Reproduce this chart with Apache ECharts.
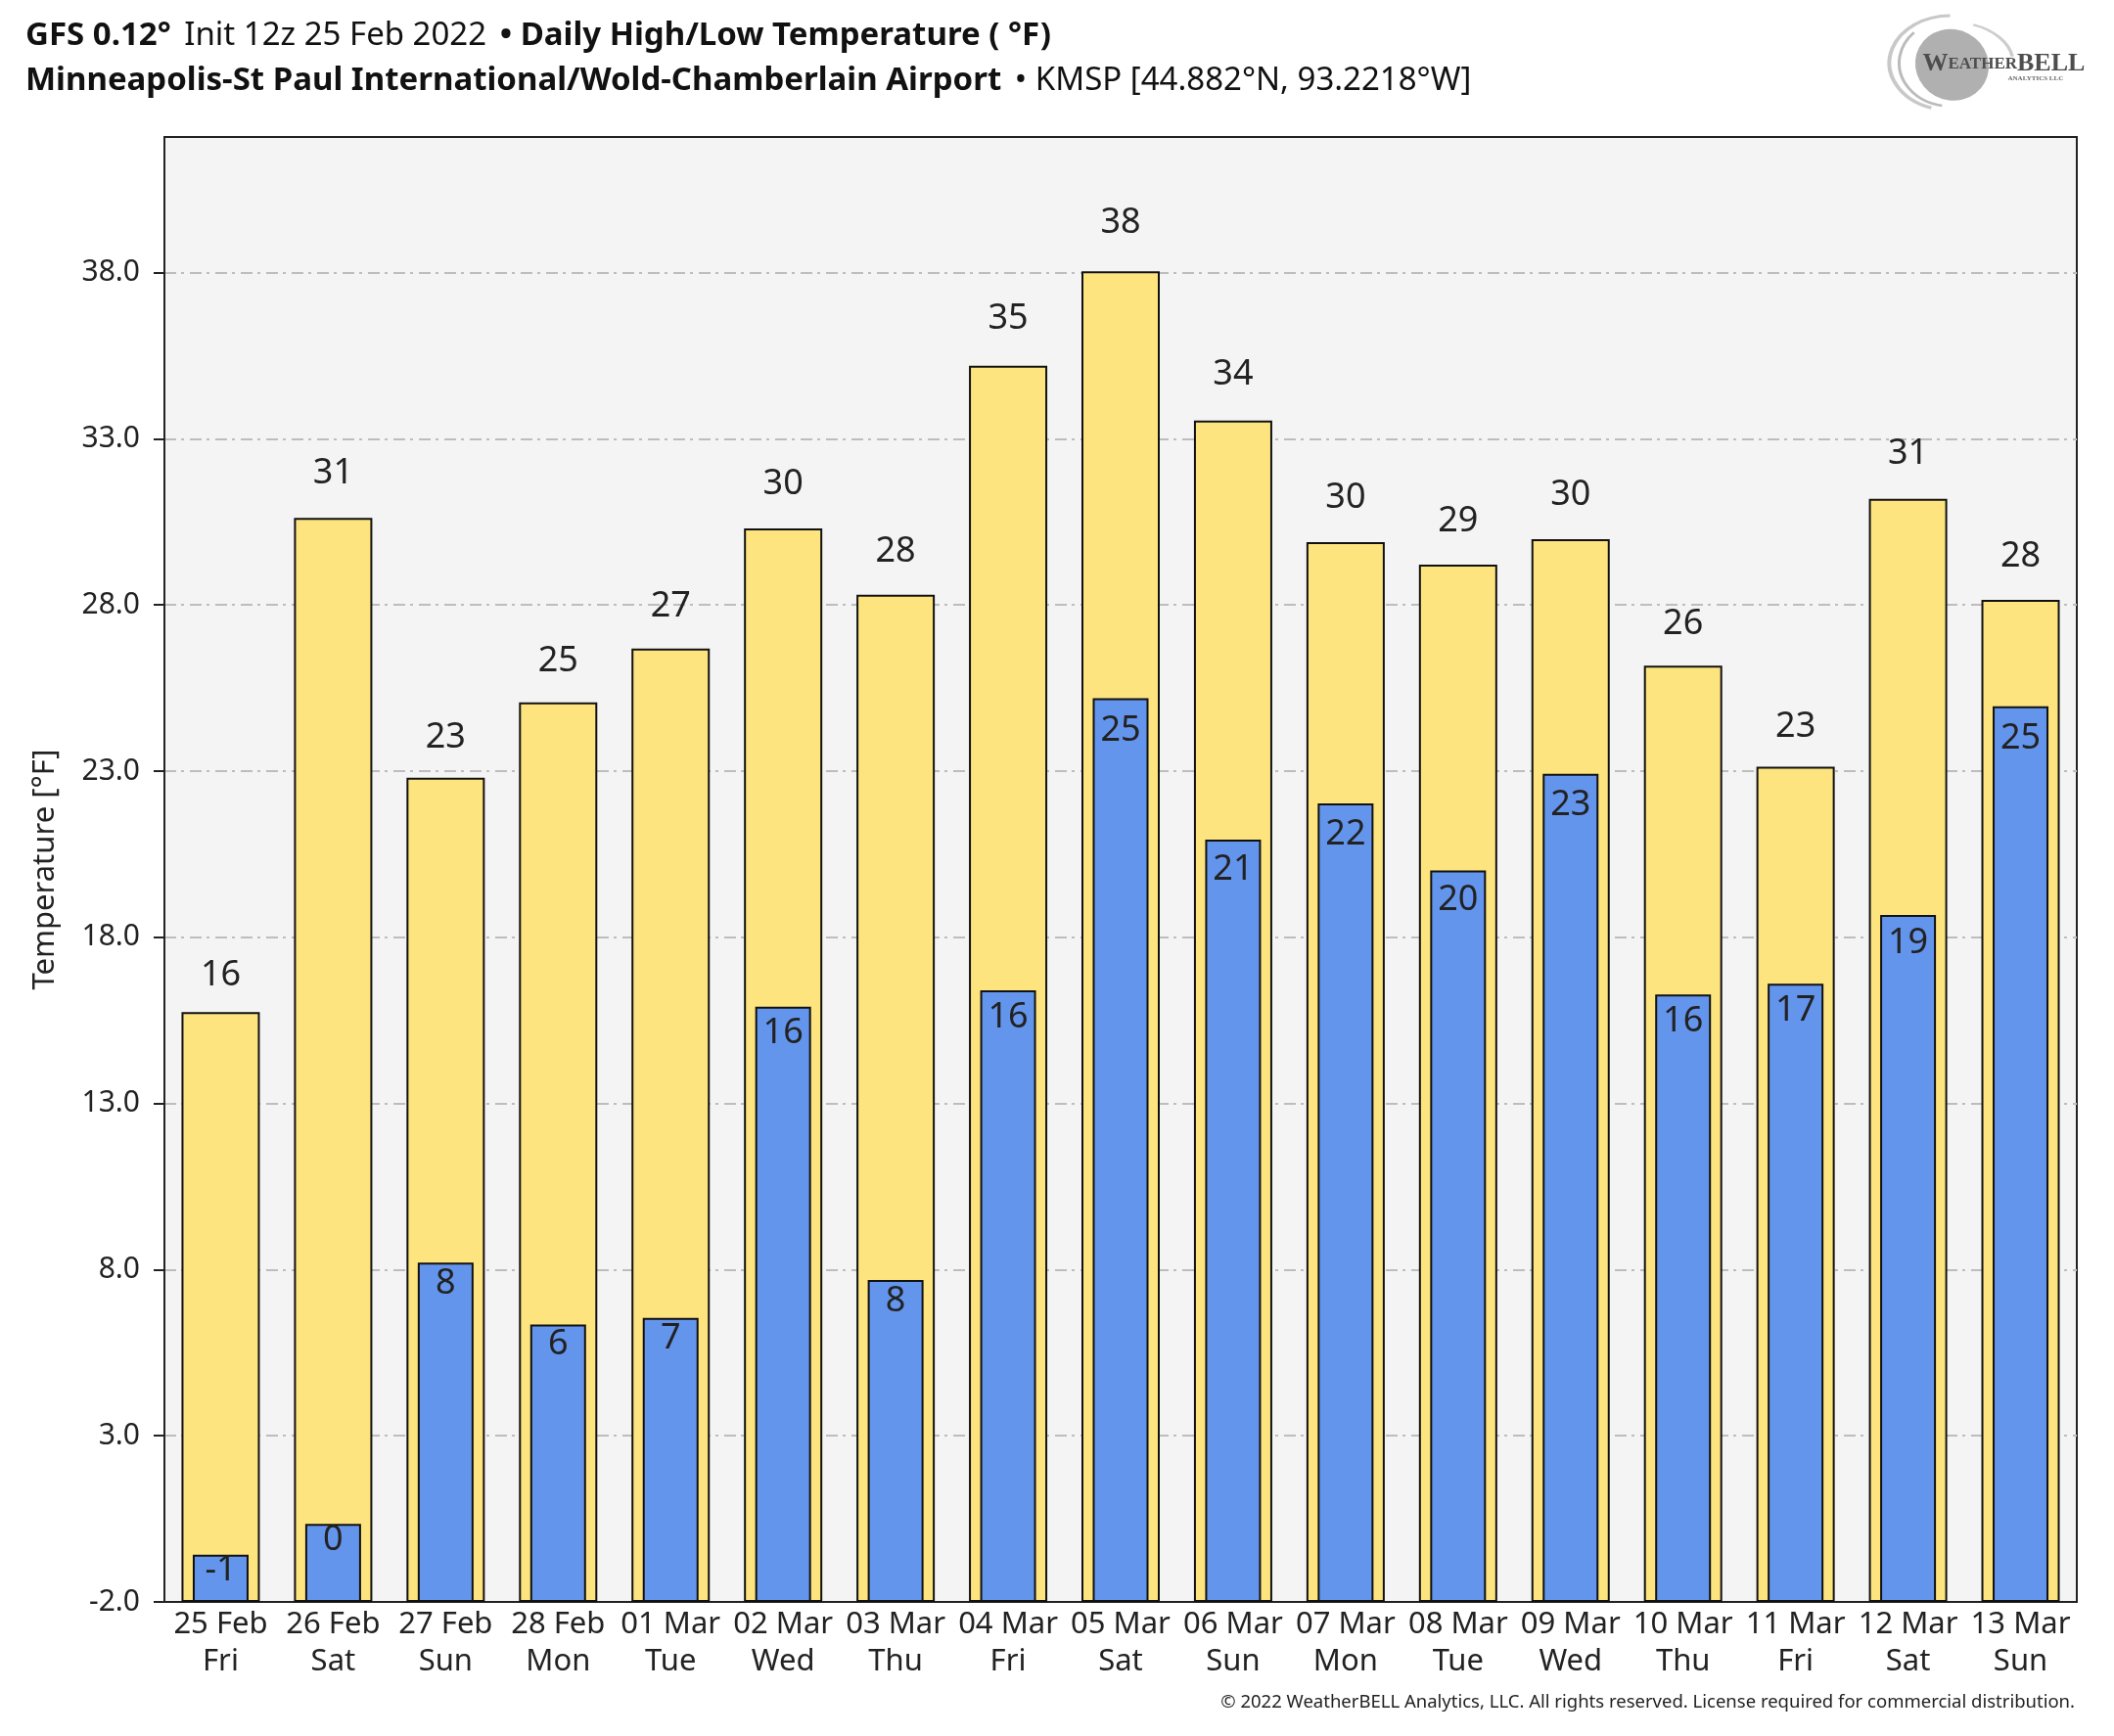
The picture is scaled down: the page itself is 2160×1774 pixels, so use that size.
<!DOCTYPE html>
<html>
<head>
<meta charset="utf-8">
<script src="https://cdn.jsdelivr.net/npm/echarts@6/dist/echarts.min.js"></script>
<style>
html,body{margin:0;padding:0;background:#fff;}
#c{width:2160px;height:1774px;}
</style>
</head>
<body>
<div id="c"></div>
<script>
// ---- data ----
const dates = ['25 Feb','26 Feb','27 Feb','28 Feb','01 Mar','02 Mar','03 Mar','04 Mar','05 Mar','06 Mar','07 Mar','08 Mar','09 Mar','10 Mar','11 Mar','12 Mar','13 Mar'];
const days = ['Fri','Sat','Sun','Mon','Tue','Wed','Thu','Fri','Sat','Sun','Mon','Tue','Wed','Thu','Fri','Sat','Sun'];
const highs = [15.75,30.62,22.80,25.07,26.69,30.30,28.31,35.20,38.04,33.55,29.89,29.21,29.98,26.17,23.13,31.19,28.15];
const lows = [-0.58,0.35,8.21,6.35,6.55,15.91,7.69,16.40,25.19,20.94,22.03,20.01,22.92,16.28,16.60,18.67,24.95];
const yMin = -2;     // bottom of the value axis
const yTop = 42.08;  // top of the plot area
const yStep = 5;

const FONT = 'Noto Sans';
const categories = dates.map((d, i) => d + '\n' + days[i]);

const highData = highs.map(v => ({
  value: v - yMin,
  label: { distance: 10.5 + 0.55 * v }
}));
const lowData = lows.map(v => ({
  value: v - yMin,
  label: { distance: -1.8 + 0.69 * v }
}));

const chart = echarts.init(document.getElementById('c'));
const option = {
  backgroundColor: '#ffffff',
  animation: false,
  title: {
    left: 21, top: 9,
    text: '{b|GFS 0.12°} {n| Init 12z 25 Feb 2022} {b| • Daily High/Low Temperature ( °F)}\n{b|Minneapolis-St Paul International/Wold-Chamberlain Airport} {n| • KMSP [44.882°N, 93.2218°W]}',
    textStyle: {
      rich: {
        b: { fontFamily: FONT, fontSize: 33, fontWeight: 'bold', color: '#111', lineHeight: 46 },
        n: { fontFamily: FONT, fontSize: 33, fontWeight: 'normal', color: '#111', lineHeight: 46 }
      }
    }
  },
  grid: {
    left: 168, right: 38, top: 140, bottom: 137,
    show: true, backgroundColor: '#f4f4f4', borderColor: '#222', borderWidth: 2
  },
  xAxis: [
    {
      type: 'category', data: categories,
      axisLine: { lineStyle: { color: '#222', width: 2 } },
      axisTick: { show: false },
      axisLabel: { interval: 0, fontFamily: FONT, fontSize: 31, lineHeight: 38, color: '#222', margin: 4 }
    },
    { type: 'category', data: categories, show: false }
  ],
  yAxis: {
    type: 'value', min: 0, max: yTop - yMin, interval: yStep,
    name: 'Temperature [°F]', nameLocation: 'middle', nameGap: 106,
    nameTextStyle: { fontFamily: FONT, fontSize: 31, color: '#222' },
    axisLine: { show: true, lineStyle: { color: '#222', width: 2 } },
    axisTick: { show: true, length: 11, lineStyle: { color: '#222', width: 2 } },
    axisLabel: {
      fontFamily: FONT, fontSize: 30, color: '#222', margin: 25, showMaxLabel: false,
      formatter: v => (Math.abs(v % yStep) < 1e-6 ? (v + yMin).toFixed(1) : '')
    },
    splitLine: { showMaxLine: false, showMinLine: false, lineStyle: { color: '#bdbdbd', width: 2, type: [12, 5, 3, 6] } }
  },
  series: [
    {
      name: 'High', type: 'bar', xAxisIndex: 0, barWidth: 80,
      data: highData,
      itemStyle: { color: '#FDE47F', borderColor: '#111', borderWidth: 2 },
      label: {
        show: true, position: 'top', fontFamily: FONT, fontSize: 36, lineHeight: 36, color: '#222',
        formatter: p => String(Math.round(p.value + yMin))
      }
    },
    {
      name: 'Low', type: 'bar', xAxisIndex: 1, barWidth: 57,
      data: lowData,
      itemStyle: { color: '#6495ED', borderColor: '#111', borderWidth: 2 },
      label: {
        show: true, position: 'insideTop', fontFamily: FONT, fontSize: 36, lineHeight: 36, color: '#222',
        formatter: p => String(Math.round(p.value + yMin))
      }
    }
  ],
  graphic: [
    {
      type: 'text', right: 40, top: 1730,
      style: { text: '© 2022 WeatherBELL Analytics, LLC. All rights reserved. License required for commercial distribution.', font: '18.5px "Noto Sans"', fill: '#222' }
    },
    {
      type: 'group', left: 1928, top: 14,
      children: [
        { type: 'arc', shape: { cx: 66, cy: 56, r: 62, startAngle: Math.PI * 0.6, endAngle: Math.PI * 1.5 }, style: { stroke: '#c8c8c8', lineWidth: 4, fill: null }, scaleX: 1, scaleY: 0.78, originX: 66, originY: 56 },
        { type: 'arc', shape: { cx: 66, cy: 56, r: 52, startAngle: Math.PI * 0.55, endAngle: Math.PI * 1.25 }, style: { stroke: '#bbbbbb', lineWidth: 3, fill: null }, scaleX: 1, scaleY: 0.85, originX: 66, originY: 56 },
        { type: 'arc', shape: { cx: 66, cy: 56, r: 56, startAngle: Math.PI * 1.62, endAngle: Math.PI * 1.95 }, style: { stroke: '#cccccc', lineWidth: 3, fill: null }, scaleX: 1.15, scaleY: 0.75, originX: 66, originY: 56 },
        { type: 'circle', shape: { cx: 68, cy: 58, r: 38 }, style: { fill: '#b0b0b0' }, scaleX: 1.0, scaleY: 0.95, rotation: -0.5, originX: 68, originY: 58 },
        { type: 'text', x: 38, y: 44, style: { text: '{a|W}{b|EATHER}{a|BELL}', rich: { a: { fontFamily: 'Liberation Serif', fontSize: 26, fontWeight: 'bold', fill: '#4d4d4d' }, b: { fontFamily: 'Liberation Serif', fontSize: 17, fontWeight: 'bold', fill: '#4d4d4d' } } } },
        { type: 'text', x: 125, y: 68, style: { text: 'ANALYTICS LLC', font: 'bold 7px "Liberation Serif"', fill: '#666' } }
      ]
    }
  ]
};
chart.setOption(option);
</script>
</body>
</html>
